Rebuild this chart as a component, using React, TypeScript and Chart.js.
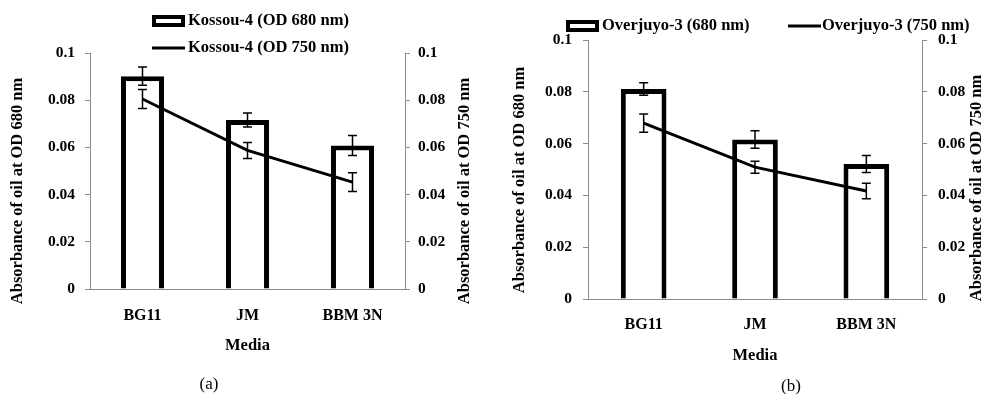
import React, { useEffect, useRef } from "react";
import { Chart, registerables } from "chart.js";

Chart.register(...registerables);

// ---------- data ----------
const categories = ["BG11", "JM", "BBM 3N"];
const yTicks = [0, 0.02, 0.04, 0.06, 0.08, 0.1];

const kossou680 = [0.0902, 0.0716, 0.0608];
const kossou680Err = [0.0039, 0.003, 0.0042];
const kossou750 = [0.0805, 0.0587, 0.0453];
const kossou750Err = [0.004, 0.0034, 0.004];

const overjuyo680 = [0.0811, 0.0616, 0.0521];
const overjuyo680Err = [0.0024, 0.0034, 0.0033];
const overjuyo750 = [0.0679, 0.0509, 0.0417];
const overjuyo750Err = [0.0035, 0.0023, 0.003];

const labelsA = ["Kossou-4 (OD 680 nm)", "Kossou-4 (OD 750 nm)"];
const labelsB = ["Overjuyo-3 (680 nm)", "Overjuyo-3 (750 nm)"];
const yTitleLeft = "Absorbance of oil at OD 680 nm";
const yTitleRight = "Absorbance of oil at OD 750 nm";
const xTitle = "Media";
const captions = ["(a)", "(b)"];

// ---------- layout ----------
const SERIF = '"Liberation Serif", "Times New Roman", serif';
const GRAY = "#8c8c8c";

type Panel = {
  left: number;
  padTop: number;
  leftW: number;
  rightW: number;
  xH: number;
  xTickPad: number;
  xTitlePad: number;
  leftTickPad: number;
  rightTickPad: number;
  legend: { x: number; y: number; textX: number }[];
  leftTitle: { x: number; y: number };
  rightTitle: { x: number; y: number };
};

const panelA: Panel = {
  left: 0,
  padTop: 53,
  leftW: 90,
  rightW: 87,
  xH: 105,
  xTickPad: 17,
  xTitlePad: 38,
  leftTickPad: 10,
  rightTickPad: 8,
  legend: [
    { x: 152, y: 21, textX: 188 },
    { x: 152, y: 48, textX: 188 },
  ],
  leftTitle: { x: 18, y: 191 },
  rightTitle: { x: 465, y: 191 },
};

const panelB: Panel = {
  left: 492,
  padTop: 40,
  leftW: 96,
  rightW: 62,
  xH: 95,
  xTickPad: 16,
  xTitlePad: 28,
  leftTickPad: 11,
  rightTickPad: 11,
  legend: [
    { x: 74, y: 26, textX: 110 },
    { x: 296, y: 26, textX: 330 },
  ],
  leftTitle: { x: 28, y: 180 },
  rightTitle: { x: 485, y: 188 },
};

function makeChart(
  canvas: HTMLCanvasElement,
  panel: Panel,
  bar: number[],
  barErr: number[],
  line: number[],
  lineErr: number[],
  labels: string[]
) {
  const errorBars = {
    id: "errorBars",
    afterDatasetsDraw(chart: any) {
      const ctx = chart.ctx;
      ctx.save();
      ctx.strokeStyle = "#000";
      ctx.lineWidth = 1.5;
      chart.data.datasets.forEach((ds: any, i: number) => {
        const errs: number[] | undefined = ds.errors;
        if (!errs) return;
        const meta = chart.getDatasetMeta(i);
        const ys = chart.scales[meta.yAxisID];
        meta.data.forEach((el: any, j: number) => {
          const v = ds.data[j];
          const x = el.x;
          const t = ys.getPixelForValue(v + errs[j]);
          const b = ys.getPixelForValue(v - errs[j]);
          ctx.beginPath();
          ctx.moveTo(x, t);
          ctx.lineTo(x, b);
          ctx.moveTo(x - 4.5, t);
          ctx.lineTo(x + 4.5, t);
          ctx.moveTo(x - 4.5, b);
          ctx.lineTo(x + 4.5, b);
          ctx.stroke();
        });
      });
      ctx.restore();
    },
  };

  const deco = {
    id: "deco",
    afterDraw(chart: any) {
      const ctx = chart.ctx;
      ctx.save();
      // legend
      ctx.font = `bold 16.5px ${SERIF}`;
      ctx.textAlign = "left";
      ctx.textBaseline = "middle";
      chart.data.datasets.forEach((ds: any, i: number) => {
        const pos = panel.legend[i];
        if (!pos) return;
        if (ds.type === "line") {
          ctx.strokeStyle = ds.borderColor;
          ctx.lineWidth = ds.borderWidth;
          ctx.beginPath();
          ctx.moveTo(pos.x, pos.y);
          ctx.lineTo(pos.x + 33, pos.y);
          ctx.stroke();
        } else {
          const bw = 4;
          ctx.fillStyle = ds.backgroundColor;
          ctx.fillRect(pos.x, pos.y - 6, 33, 12);
          ctx.strokeStyle = ds.borderColor;
          ctx.lineWidth = bw;
          ctx.strokeRect(pos.x + bw / 2, pos.y - 6 + bw / 2, 33 - bw, 12 - bw);
        }
        ctx.fillStyle = "#000";
        ctx.fillText(ds.label, pos.textX, pos.y);
      });
      // y axis titles
      ctx.font = `bold 16.5px ${SERIF}`;
      ctx.textAlign = "center";
      const titles = [
        { p: panel.leftTitle, t: yTitleLeft },
        { p: panel.rightTitle, t: yTitleRight },
      ];
      titles.forEach(({ p, t }) => {
        ctx.save();
        ctx.translate(p.x, p.y);
        ctx.rotate(-Math.PI / 2);
        ctx.fillText(t, 0, 0);
        ctx.restore();
      });
      ctx.restore();
    },
  };

  const yScale = (position: "left" | "right", width: number, pad: number) => ({
    type: "linear" as const,
    position,
    min: 0,
    max: 0.1,
    afterBuildTicks: (s: any) => {
      s.ticks = yTicks.map((v) => ({ value: v }));
    },
    afterFit: (s: any) => {
      s.width = width;
    },
    ticks: {
      color: "#000",
      font: { family: SERIF, size: 15.5, weight: "bold" as const },
      padding: pad,
      callback: (v: any) => String(v),
    },
    grid: {
      drawOnChartArea: false,
      drawTicks: true,
      tickLength: 5,
      color: GRAY,
    },
    border: { display: true, color: GRAY, width: 1 },
    title: { display: false },
  });

  return new Chart(canvas, {
    type: "bar",
    data: {
      labels: categories,
      datasets: [
        {
          type: "bar",
          label: labels[0],
          data: bar,
          errors: barErr,
          yAxisID: "y",
          backgroundColor: "#ffffff",
          borderColor: "#000000",
          borderWidth: 5,
          borderSkipped: "start",
          categoryPercentage: 1,
          barPercentage: 0.41,
          order: 1,
        } as any,
        {
          type: "line",
          label: labels[1],
          data: line,
          errors: lineErr,
          yAxisID: "y1",
          borderColor: "#000000",
          backgroundColor: "#000000",
          borderWidth: 3,
          pointRadius: 0,
          tension: 0,
          fill: false,
          order: 0,
        } as any,
      ],
    },
    options: {
      responsive: false,
      animation: false,
      layout: { padding: { top: panel.padTop, left: 0, right: 0, bottom: 0 } },
      plugins: {
        legend: { display: false },
        tooltip: { enabled: false },
      },
      scales: {
        x: {
          type: "category",
          offset: true,
          afterFit: (s: any) => {
            s.height = panel.xH;
          },
          grid: { display: false, drawTicks: false },
          border: { display: true, color: GRAY, width: 1 },
          ticks: {
            color: "#000",
            font: { family: SERIF, size: 16, weight: "bold" },
            padding: panel.xTickPad,
            maxRotation: 0,
          },
          title: {
            display: true,
            text: xTitle,
            color: "#000",
            font: { family: SERIF, size: 16.5, weight: "bold" },
            padding: { top: 0, bottom: panel.xTitlePad },
          },
        },
        y: yScale("left", panel.leftW, panel.leftTickPad),
        y1: yScale("right", panel.rightW, panel.rightTickPad),
      },
    } as any,
    plugins: [errorBars, deco],
  });
}

export default function App() {
  const refA = useRef<HTMLCanvasElement>(null);
  const refB = useRef<HTMLCanvasElement>(null);

  useEffect(() => {
    const a = makeChart(refA.current!, panelA, kossou680, kossou680Err, kossou750, kossou750Err, labelsA);
    const b = makeChart(refB.current!, panelB, overjuyo680, overjuyo680Err, overjuyo750, overjuyo750Err, labelsB);
    return () => {
      a.destroy();
      b.destroy();
    };
  }, []);

  const capStyle: React.CSSProperties = {
    position: "absolute",
    top: 374,
    width: 60,
    textAlign: "center",
    fontFamily: SERIF,
    fontSize: 17,
    lineHeight: "20px",
    color: "#000",
  };

  return (
    <div
      style={{
        position: "absolute",
        left: 0,
        top: 0,
        width: 984,
        height: 394,
        overflow: "hidden",
        background: "#fff",
      }}
    >
      <canvas ref={refA} width={492} height={394} style={{ position: "absolute", left: panelA.left, top: 0 }} />
      <canvas ref={refB} width={492} height={394} style={{ position: "absolute", left: panelB.left, top: 0 }} />
      <div style={{ ...capStyle, left: 209 - 30 }}>{captions[0]}</div>
      <div style={{ ...capStyle, left: 791 - 30, top: 376 }}>{captions[1]}</div>
    </div>
  );
}
